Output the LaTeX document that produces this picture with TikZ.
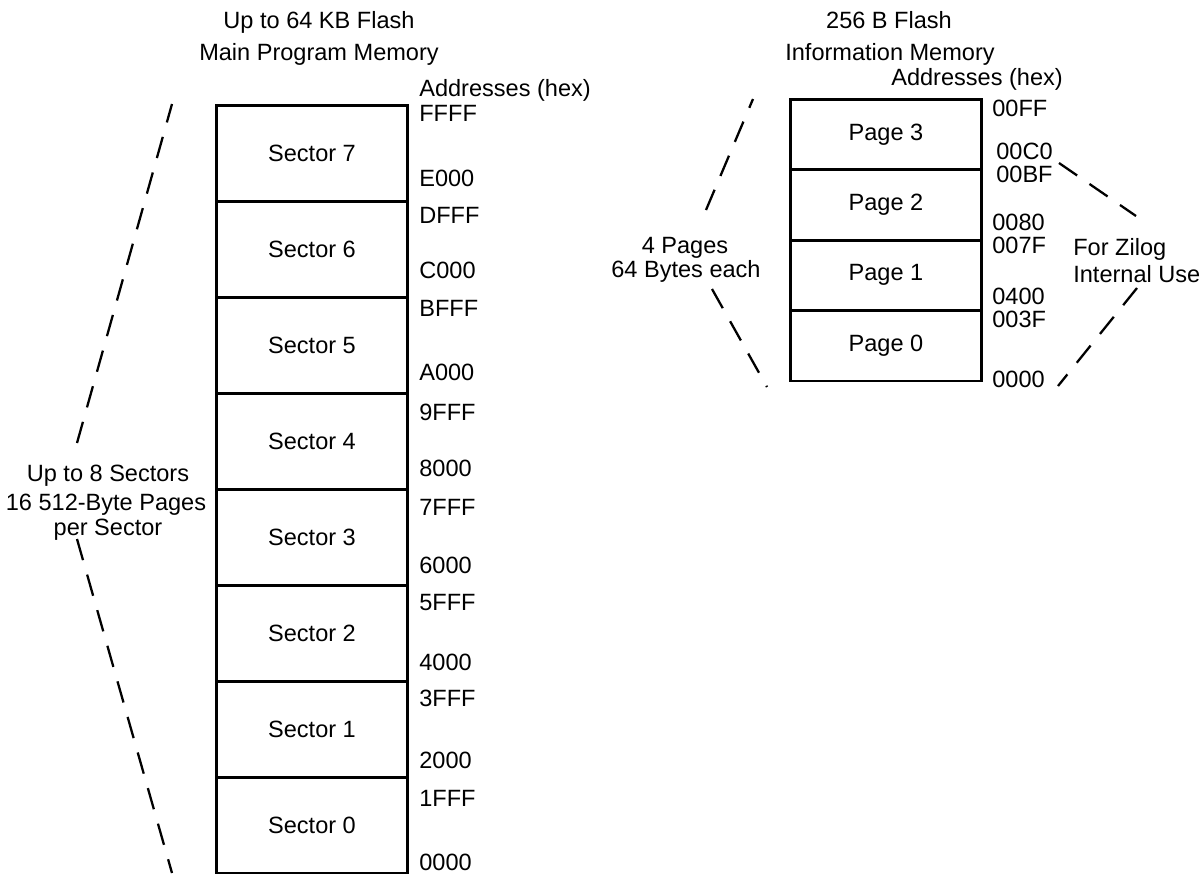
\documentclass[tikz,border=0pt]{standalone}
\usepackage{fontspec}
\setmainfont{Liberation Sans}

\begin{document}
\begin{tikzpicture}
        [%%%%%%%%%%%%%%%%%%%%%%%%%%%%%%
        x=0.02cm, y=-0.02cm,
        font=\fontsize{13.4}{16}\selectfont,
        box/.style={rectangle,draw=black,line width=1.7pt,minimum width=3.84cm,inner sep=0pt},
        sector/.style={box,minimum height=1.92cm},
        page/.style={box,minimum height=1.41cm},
        addr/.style={anchor=base west,inner sep=0pt},
        txt/.style={anchor=base,inner sep=0pt},
        guide/.style={line width=1.3pt,dash pattern=on 0.44cm off 0.3cm},
        ]%%%%%%%%%%%%%%%%%%%%%%%%%%%%%%
        \useasboundingbox (0,0) rectangle (1204,873);

        % main program memory
        \node[txt] (maintop) at (319,28) {Up to 64 KB Flash};
        \node[txt] (mainsub) at (319,60) {Main Program Memory};
        \node[addr] (mainhex) at (419,96) {Addresses (hex)};

        \foreach \n in {0,1,...,7}
          \node[sector] (s\n) at (312,{825-96*\n}) {Sector \n};

        \foreach \hi/\lo/\yh/\yl in {FFFF/E000/113/178, DFFF/C000/215/270,
            BFFF/A000/308/372, 9FFF/8000/412/468, 7FFF/6000/507/565,
            5FFF/4000/602/662, 3FFF/2000/698/760, 1FFF/0000/798/862}{
          \node[addr] (hi\hi) at (419,\yh+8) {\hi};
          \node[addr] (lo\lo) at (419,\yl+8) {\lo};
        }

        \node[txt] (sectors) at (108,481) {Up to 8 Sectors};
        \node[txt] (pages) at (106,510) {16 512-Byte Pages};
        \node[txt] (persec) at (108,535) {per Sector};

        \coordinate (mt) at (172,104);
        \coordinate (mu) at (77,443);
        \coordinate (ml) at (77,539);
        \coordinate (mb) at (172,873);
        \draw[guide] (mu) -- (mt);
        \draw[guide] (ml) -- (mb);

        % information memory
        \node[txt] (infotop) at (889,28) {256 B Flash};
        \node[txt] (infosub) at (890,60) {Information Memory};
        \node[addr] (infohex) at (891,85) {Addresses (hex)};

        \foreach \n in {0,1,...,3}
          \node[page] (p\n) at (886,{345.75-70.5*\n}) {Page \n};

        \foreach \a/\x/\y in {00FF/992/116, 00C0/996/159, 00BF/996/182,
            0080/992/230, 007F/992/253, 0400/992/304, 003F/992/327, 0000/992/387}
          \node[addr] (i\a) at (\x,\y) {\a};

        \node[txt] (npages) at (685,253) {4 Pages};
        \node[txt] (nbytes) at (686,277) {64 Bytes each};
        \node[addr] (zilog) at (1073,255) {For Zilog};
        \node[addr] (inuse) at (1073,282) {Internal Use};

        \coordinate (ilt) at (753,99);
        \coordinate (ilu) at (706,210);
        \coordinate (ill) at (712,289);
        \coordinate (ilb) at (767,387);
        \coordinate (irt) at (1059,163);
        \coordinate (iru) at (1136,216);
        \coordinate (irl) at (1137,288);
        \coordinate (irb) at (1058,386);
        \draw[guide] (ilu) -- (ilt);
        \draw[guide] (ill) -- (ilb);
        \draw[guide] (irt) -- (iru);
        \draw[guide] (irl) -- (irb);
      \end{tikzpicture}
\end{document}
